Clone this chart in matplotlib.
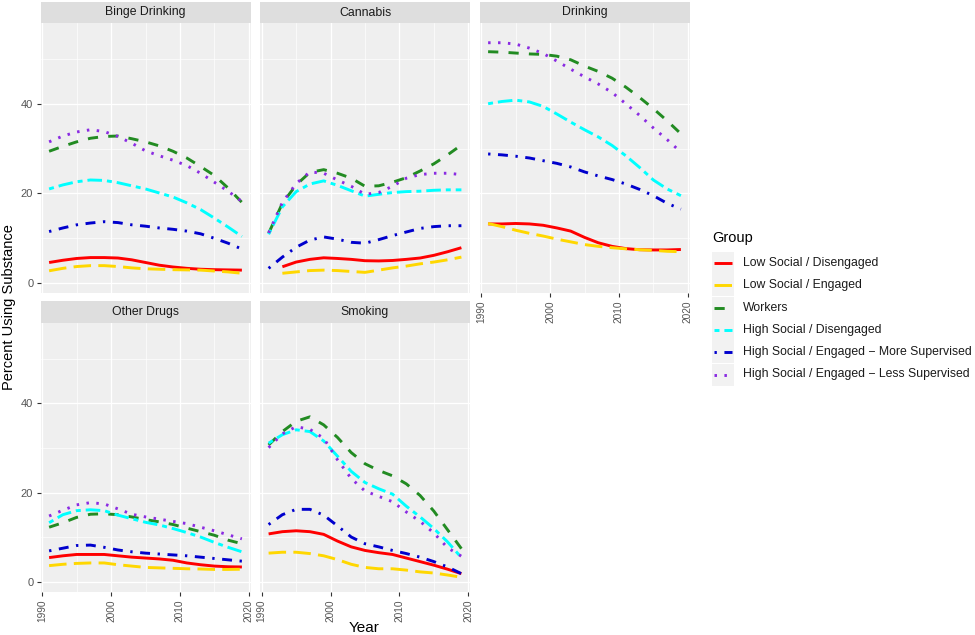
import numpy as np
import matplotlib
matplotlib.use("Agg")
import matplotlib.pyplot as plt
from matplotlib.patches import Rectangle
from matplotlib.lines import Line2D

plt.rcParams['font.family'] = ['Liberation Sans', 'DejaVu Sans']

nan = np.nan
years = [1991, 1993, 1995, 1997, 1999, 2001, 2003, 2005, 2007, 2009, 2011, 2013, 2015, 2017, 2019]

panels = ["Binge Drinking", "Cannabis", "Drinking", "Other Drugs", "Smoking"]
groups = ["Low Social / Disengaged", "Low Social / Engaged", "Workers",
          "High Social / Disengaged", "High Social / Engaged \u2212 More Supervised",
          "High Social / Engaged \u2212 Less Supervised"]

# Binge Drinking
binge_ld = [4.6, 5.1, 5.5, 5.7, 5.7, 5.6, 5.2, 4.6, 4.0, 3.6, 3.3, 3.1, 3.0, 2.95, 2.9]
binge_le = [2.75, 3.3, 3.7, 3.9, 3.9, 3.7, 3.4, 3.2, 3.1, 3.0, 2.95, 2.9, 2.7, 2.5, 2.2]
binge_wk = [29.4, 30.5, 31.5, 32.3, 32.7, 32.8, 32.2, 31.5, 30.6, 29.4, 27.9, 26.0, 24.0, 21.2, 18.0]
binge_hd = [21.0, 21.9, 22.6, 23.0, 22.9, 22.4, 21.7, 21.0, 20.1, 19.2, 17.9, 16.4, 14.5, 12.5, 10.4]
binge_hm = [11.5, 12.3, 13.0, 13.4, 13.7, 13.5, 13.0, 12.7, 12.3, 12.0, 11.6, 11.0, 10.0, 8.9, 7.6]
binge_hl = [31.5, 32.8, 33.7, 34.2, 33.8, 32.7, 31.2, 29.5, 28.4, 27.4, 26.2, 24.5, 22.5, 20.5, 18.2]

# Cannabis
cann_ld = [nan, 3.65, 4.7, 5.3, 5.65, 5.5, 5.3, 5.0, 4.95, 5.05, 5.3, 5.6, 6.2, 7.0, 7.9]
cann_le = [nan, 2.2, 2.5, 2.8, 2.9, 2.8, 2.6, 2.4, 2.9, 3.4, 3.8, 4.3, 4.7, 5.2, 5.8]
cann_wk = [11.1, 17.8, 21.9, 24.7, 25.3, 24.5, 23.4, 21.6, 21.7, 22.5, 23.5, 25.0, 26.6, 28.6, 30.8]
cann_hd = [10.9, 17.0, 20.4, 22.1, 22.8, 21.8, 20.6, 19.4, 19.8, 20.2, 20.4, 20.5, 20.7, 20.8, 20.8]
cann_hm = [3.3, 5.8, 8.0, 9.6, 10.3, 9.8, 9.1, 8.9, 9.7, 10.6, 11.4, 12.2, 12.6, 12.8, 12.8]
cann_hl = [11.2, 18.0, 22.2, 24.8, 24.5, 23.0, 21.6, 19.8, 20.2, 21.6, 23.4, 24.2, 24.5, 24.5, 24.2]

# Drinking
drink_ld = [13.2, 13.2, 13.3, 13.2, 12.9, 12.3, 11.6, 10.2, 9.0, 8.2, 7.7, 7.45, 7.4, 7.4, 7.5]
drink_le = [13.3, 12.6, 11.8, 11.1, 10.5, 9.8, 9.2, 8.6, 8.2, 7.9, 7.65, 7.45, 7.3, 7.1, 7.0]
drink_wk = [51.6, 51.5, 51.3, 51.1, 51.0, 50.6, 49.8, 48.4, 47.2, 45.7, 43.7, 41.4, 38.9, 36.2, 33.3]
drink_hd = [40.0, 40.5, 40.8, 40.4, 39.4, 37.7, 35.9, 34.2, 32.6, 30.7, 28.4, 25.8, 23.0, 21.0, 19.5]
drink_hm = [28.8, 28.6, 28.3, 27.9, 27.3, 26.7, 25.9, 24.8, 23.9, 23.1, 22.1, 20.9, 19.5, 17.8, 16.5]
drink_hl = [53.6, 53.6, 53.3, 52.4, 51.2, 49.5, 47.7, 46.0, 44.4, 42.5, 40.0, 37.4, 34.6, 32.0, 29.2]

# Other Drugs
other_ld = [5.5, 5.9, 6.2, 6.2, 6.2, 5.9, 5.6, 5.4, 5.2, 4.9, 4.3, 3.9, 3.6, 3.45, 3.4]
other_le = [3.7, 4.0, 4.2, 4.3, 4.3, 3.9, 3.6, 3.3, 3.2, 3.1, 3.0, 2.95, 2.85, 2.85, 2.9]
other_wk = [12.3, 13.3, 14.5, 15.2, 15.3, 15.1, 14.6, 14.0, 13.5, 12.9, 12.1, 11.3, 10.5, 9.4, 8.6]
other_hd = [13.3, 15.1, 16.0, 16.2, 16.0, 15.0, 14.2, 13.4, 12.8, 12.0, 11.1, 10.1, 8.9, 7.8, 6.8]
other_hm = [7.0, 7.6, 8.2, 8.3, 7.8, 7.2, 6.8, 6.5, 6.3, 6.1, 5.9, 5.6, 5.3, 5.0, 4.7]
other_hl = [14.8, 16.1, 17.3, 17.8, 17.5, 16.4, 15.2, 14.6, 14.1, 13.6, 13.1, 12.3, 11.5, 10.6, 9.7]

# Smoking
smoke_ld = [10.8, 11.3, 11.5, 11.3, 10.7, 9.2, 7.9, 7.1, 6.6, 6.2, 5.4, 4.6, 3.8, 2.9, 1.9]
smoke_le = [6.5, 6.7, 6.7, 6.4, 5.9, 5.05, 4.0, 3.3, 3.0, 3.0, 2.7, 2.3, 2.05, 1.6, 1.1]
smoke_wk = [30.7, 33.7, 36.0, 37.0, 35.2, 32.4, 29.0, 26.5, 25.0, 23.8, 22.0, 19.4, 15.9, 11.7, 7.5]
smoke_hd = [31.1, 33.0, 34.1, 33.7, 31.6, 28.2, 24.8, 22.3, 20.9, 19.7, 17.0, 14.6, 12.0, 9.0, 5.5]
smoke_hm = [12.9, 15.1, 16.3, 16.3, 15.0, 12.6, 10.1, 8.6, 7.9, 7.1, 6.4, 5.6, 4.6, 3.4, 1.9]
smoke_hl = [30.1, 33.2, 34.8, 34.2, 32.2, 27.4, 23.2, 20.4, 19.2, 18.0, 15.7, 13.6, 11.0, 7.7, 5.8]

panel_data = {
    "Binge Drinking": [binge_ld, binge_le, binge_wk, binge_hd, binge_hm, binge_hl],
    "Cannabis": [cann_ld, cann_le, cann_wk, cann_hd, cann_hm, cann_hl],
    "Drinking": [drink_ld, drink_le, drink_wk, drink_hd, drink_hm, drink_hl],
    "Other Drugs": [other_ld, other_le, other_wk, other_hd, other_hm, other_hl],
    "Smoking": [smoke_ld, smoke_le, smoke_wk, smoke_hd, smoke_hm, smoke_hl],
}

colors = ["#FF0000", "#FFD700", "#228B22", "#00FFFF", "#0000CD", "#8A2BE2"]
styles = ["-", (0, (6.0, 2.5)), (0, (3.5, 3.5)), (0, (1.7, 1.7, 5.0, 1.7)),
          (0, (0.8, 2.6, 3.4, 2.6)), (0, (0.85, 2.55))]
LW = 2.1

W, H = 975, 635
fig = plt.figure(figsize=(W / 100, H / 100), dpi=100)


def fx(px):
    return px / W


def fy(py):
    return 1 - py / H


col_left = [40.5, 260, 479.5]
col_w = 210
rows = [dict(strip=(2, 23), plot=(23, 293)), dict(strip=(301, 323), plot=(323, 592))]
positions = {"Binge Drinking": (0, 0), "Cannabis": (0, 1), "Drinking": (0, 2),
             "Other Drugs": (1, 0), "Smoking": (1, 1)}

tick_col = "#555555"
for name in panels:
    r, c = positions[name]
    top, bot = rows[r]["plot"]
    ax = fig.add_axes([fx(col_left[c]), fy(bot), col_w / W, (bot - top) / H])
    ax.set_facecolor("#EFEFEF")
    for s in ax.spines.values():
        s.set_visible(False)
    ax.set_xlim(1989.75, 2020.25)
    ax.set_ylim(-2.2, 58.0)
    ax.set_xticks([1990, 2000, 2010, 2020])
    ax.set_xticks([1995, 2005, 2015], minor=True)
    ax.set_yticks([0, 20, 40])
    ax.set_yticks([10, 30, 50], minor=True)
    ax.grid(which="major", color="white", linewidth=0.9)
    ax.grid(which="minor", color="white", linewidth=0.45)
    ax.set_axisbelow(True)
    show_x = (r == 1) or (name == "Drinking")
    show_y = (c == 0)
    ax.tick_params(which="minor", length=0)
    ax.tick_params(axis="x", which="major", length=3.2 if show_x else 0, width=0.8,
                   color="#333333", labelbottom=show_x, labelsize=7.3, labelcolor=tick_col,
                   labelrotation=90, pad=2)
    ax.tick_params(axis="y", which="major", length=3.2 if show_y else 0, width=0.8,
                   color="#333333", labelleft=show_y, labelsize=8, labelcolor=tick_col, pad=2)
    for vals, col, ls in zip(panel_data[name], colors, styles):
        ax.plot(years, vals, color=col, linestyle=ls, linewidth=LW,
                dash_capstyle="butt", solid_capstyle="butt")
    # strip
    st, sb = rows[r]["strip"]
    fig.add_artist(Rectangle((fx(col_left[c]), fy(sb)), col_w / W, (sb - st) / H,
                             transform=fig.transFigure, facecolor="#DEDEDE",
                             edgecolor="none"))
    fig.text(fx(col_left[c] + col_w / 2), fy((st + sb) / 2), name, ha="center",
             va="center", fontsize=8.8, color="#1A1A1A")

fig.text(fx(9), fy(307), "Percent Using Substance", rotation=90, ha="center",
         va="center", fontsize=10.5)
fig.text(fx(364), fy(632), "Year", ha="center", va="baseline", fontsize=11)

# legend
lax = fig.add_axes([fx(700), fy(400), 275 / W, 180 / H])
lax.set_xlim(700, 975)
lax.set_ylim(400, 220)
lax.axis("off")
lax.text(712, 238, "Group", ha="left", va="center", fontsize=10.5)
ycent = [263, 285.3, 307.6, 329.9, 352.2, 374.5]
for yc, g, col, ls in zip(ycent, groups, colors, styles):
    lax.add_patch(Rectangle((712, yc - 11), 22, 22, facecolor="#F2F2F2", edgecolor="none"))
    lax.add_line(Line2D([714, 732], [yc, yc], color=col, linestyle=ls, linewidth=LW,
                        dash_capstyle="butt", solid_capstyle="butt"))
    lax.text(743, yc, g, ha="left", va="center", fontsize=8.8, color="#1A1A1A")

fig.savefig("out.png", dpi=100)
